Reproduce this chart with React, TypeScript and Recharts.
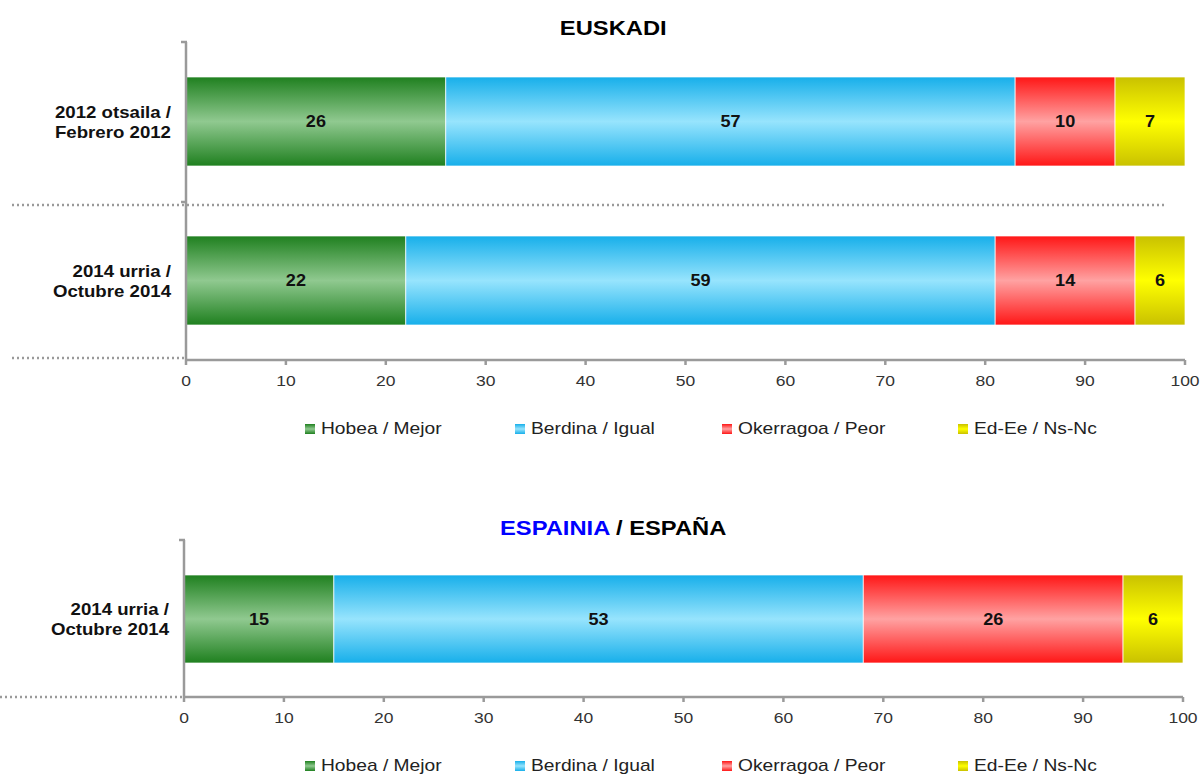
import { Bar, BarChart, LabelList, XAxis, YAxis } from 'recharts'

// Two stacked 100% bars: Euskadi (two waves) and España (one wave).
// Excel-style look: vertical gradient fills, gray axes, dotted category separators.
// The source export is stretched horizontally, so text is drawn with a small scaleX.

const seriesKeys = ['mejor', 'igual', 'peor', 'nsnc']
const seriesNames = ['Hobea / Mejor', 'Berdina / Igual', 'Okerragoa / Peor', 'Ed-Ee / Ns-Nc']
const seriesEdge = ['#1f801f', '#17afea', '#ff1616', '#c9c100']
const seriesMid = ['#90c990', '#97e4fd', '#ffa2a2', '#ffff00']

const euskadiCategories = ['2012 otsaila /\nFebrero 2012', '2014 urria /\nOctubre 2014']
const euskadiMejor = [26, 22]
const euskadiIgual = [57, 59]
const euskadiPeor = [10, 14]
const euskadiNsNc = [7, 6]

const espanaCategories = ['2014 urria /\nOctubre 2014']
const espanaMejor = [15]
const espanaIgual = [53]
const espanaPeor = [26]
const espanaNsNc = [6]

const xTicks = [0, 10, 20, 30, 40, 50, 60, 70, 80, 90, 100]

const FONT = '"Liberation Sans", Arial, sans-serif'
const AXIS = '#9a9a9a'
const SX = 1.13

function buildRows(cats: string[], a: number[], b: number[], c: number[], d: number[]) {
  return cats.map((name, i) => ({ name, mejor: a[i], igual: b[i], peor: c[i], nsnc: d[i] }))
}

const euskadiData = buildRows(euskadiCategories, euskadiMejor, euskadiIgual, euskadiPeor, euskadiNsNc)
const espanaData = buildRows(espanaCategories, espanaMejor, espanaIgual, espanaPeor, espanaNsNc)

function Gradients({ prefix }: { prefix: string }) {
  return (
    <defs>
      {seriesKeys.map((k, i) => (
        <linearGradient key={k} id={`${prefix}-${k}`} x1="0" y1="0" x2="0" y2="1">
          <stop offset="0%" stopColor={seriesEdge[i]} />
          <stop offset="50%" stopColor={seriesMid[i]} />
          <stop offset="100%" stopColor={seriesEdge[i]} />
        </linearGradient>
      ))}
    </defs>
  )
}

function CategoryTick(props: any) {
  const { x, y, payload } = props
  const lines = String(payload.value).split('\n')
  return (
    <g transform={`translate(${x - 7},${y}) scale(${SX},1)`}>
      <text x={0} y={0} textAnchor="end" fontFamily={FONT} fontSize={16.5} fontWeight="bold" fill="#111">
        <tspan x={0} dy={-4}>{lines[0]}</tspan>
        <tspan x={0} dy={21}>{lines[1]}</tspan>
      </text>
    </g>
  )
}

function ValueTick(props: any) {
  const { x, y, payload } = props
  return (
    <g transform={`translate(${x},${y}) scale(${SX},1)`}>
      <text x={0} y={0} dy="0.71em" textAnchor="middle" fontFamily={FONT} fontSize={15.5} fill="#333">
        {payload.value}
      </text>
    </g>
  )
}

function SegmentLabel(props: any) {
  const { x, y, width, height, value } = props
  const cx = Number(x) + Number(width) / 2
  const cy = Number(y) + Number(height) / 2
  return (
    <g transform={`translate(${cx},${cy}) scale(${SX},1)`}>
      <text x={0} y={0} dy="0.35em" textAnchor="middle" fontFamily={FONT} fontSize={16} fontWeight="bold" fill="#111">
        {value}
      </text>
    </g>
  )
}

function Legend({ top }: { top: number }) {
  const lefts = [305, 515, 722, 958]
  return (
    <>
      {seriesNames.map((n, i) => (
        <div
          key={n}
          style={{
            position: 'absolute',
            top,
            left: lefts[i],
            display: 'flex',
            alignItems: 'center',
            fontFamily: FONT,
            fontSize: 17,
            color: '#222',
            whiteSpace: 'nowrap',
          }}
        >
          <span
            style={{
              width: 10,
              height: 10,
              marginRight: 6,
              background: `linear-gradient(${seriesEdge[i]}, ${seriesMid[i]}, ${seriesEdge[i]})`,
            }}
          />
          <span style={{ display: 'inline-block', transform: `scaleX(${SX})`, transformOrigin: 'left center' }}>{n}</span>
        </div>
      ))}
    </>
  )
}

function StackChart({
  data,
  prefix,
  height,
  marginTop,
  yWidth,
  right,
  barSize,
}: {
  data: any[]
  prefix: string
  height: number
  marginTop: number
  yWidth: number
  right: number
  barSize: number
}) {
  return (
    <BarChart
      width={1201}
      height={height}
      data={data}
      layout="vertical"
      margin={{ top: marginTop, right, bottom: 10, left: 0 }}
      barSize={barSize}
    >
      <Gradients prefix={prefix} />
      <XAxis
        type="number"
        domain={[0, 100]}
        ticks={xTicks}
        allowDataOverflow
        height={30}
        axisLine={{ stroke: AXIS, strokeWidth: 2.5 }}
        tickLine={{ stroke: AXIS, strokeWidth: 2.5 }}
        tickSize={5}
        tickMargin={10}
        tick={<ValueTick />}
      />
      <YAxis
        type="category"
        dataKey="name"
        width={yWidth}
        axisLine={{ stroke: AXIS, strokeWidth: 2.5 }}
        tickLine={false}
        tick={<CategoryTick />}
      />
      {seriesKeys.map((k) => (
        <Bar
          key={k}
          dataKey={k}
          stackId="s"
          fill={`url(#${prefix}-${k})`}
          stroke="#ffffff"
          strokeOpacity={0.7}
          strokeWidth={1}
          isAnimationActive={false}
        >
          <LabelList dataKey={k} content={<SegmentLabel />} />
        </Bar>
      ))}
    </BarChart>
  )
}

const titleStyle = {
  position: 'absolute' as const,
  left: 0,
  width: 1226,
  textAlign: 'center' as const,
  fontFamily: FONT,
  fontSize: 21,
  fontWeight: 'bold' as const,
  color: '#000',
}

export default function App() {
  return (
    <div style={{ position: 'relative', width: 1201, height: 775, background: '#fff', overflow: 'hidden' }}>
      <style>{'body{margin:0}'}</style>
      <div style={{ ...titleStyle, top: 16 }}>
        <span style={{ display: 'inline-block', transform: `scaleX(${SX})` }}>EUSKADI</span>
      </div>
      <div style={{ position: 'absolute', top: 0, left: 0 }}>
        <StackChart data={euskadiData} prefix="eu" height={400} marginTop={42} yWidth={186} right={16} barSize={89} />
      </div>
      <svg width={1201} height={775} style={{ position: 'absolute', top: 0, left: 0, pointerEvents: 'none' }}>
        <g stroke={AXIS} strokeWidth={2.5} strokeDasharray="2 3">
          <line x1={12} y1={205} x2={1165} y2={205} />
          <line x1={12} y1={358} x2={184} y2={358} />
          <line x1={0} y1={697} x2={182} y2={697} />
        </g>
        <g stroke={AXIS} strokeWidth={2.5}>
          <line x1={181} y1={42} x2={187} y2={42} />
          <line x1={181} y1={202} x2={187} y2={202} />
          <line x1={179} y1={540} x2={185} y2={540} />
        </g>
      </svg>
      <Legend top={419} />

      <div style={{ ...titleStyle, top: 516 }}>
        <span style={{ display: 'inline-block', transform: `scaleX(${SX})` }}>
          <span style={{ color: '#0000ff' }}>ESPAINIA</span> / ESPAÑA
        </span>
      </div>
      <div style={{ position: 'absolute', top: 500, left: 0 }}>
        <StackChart data={espanaData} prefix="es" height={237} marginTop={40} yWidth={184} right={18} barSize={88} />
      </div>
      <Legend top={756} />
    </div>
  )
}
